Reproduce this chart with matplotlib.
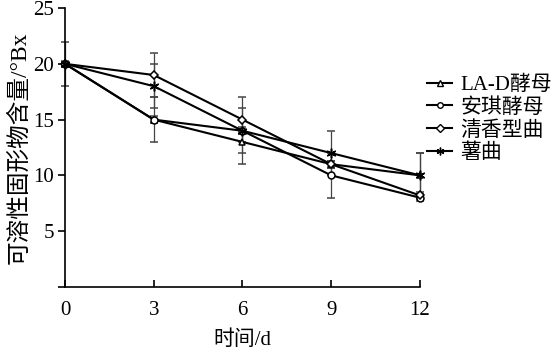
import matplotlib
matplotlib.use("Agg")
import matplotlib.pyplot as plt
from matplotlib.lines import Line2D

plt.rcParams['font.family'] = ['Liberation Serif', 'Noto Sans CJK SC']
plt.rcParams['font.size'] = 15

# Data
days = [0, 3, 6, 9, 12]
series_names = ['LA-D酵母', '安琪酵母', '清香型曲', '薯曲']
la_d = [20, 15, 13, 11, 10]
anqi = [20, 15, 14, 10, 8]
qingxiang = [20, 19, 15, 11, 8.2]
shuqu = [20, 18, 14, 12, 10]

la_d_err = [2, 2, 2, 0.3, 2]
anqi_err = [0.2, 0.3, 2, 2, 0.3]
qingxiang_err = [0.2, 2, 2, 0.3, 0.3]
shuqu_err = [0.3, 2, 0.3, 2, 2]

markers = ['^', 'o', 'D', (6, 2, 0)]
msizes = [5, 5, 4.5, 7]

fig = plt.figure(figsize=(5.51, 3.52), dpi=100)
ax = fig.add_axes([0.118, 0.185, 0.644, 0.792])

all_vals = [la_d, anqi, qingxiang, shuqu]
all_err = [la_d_err, anqi_err, qingxiang_err, shuqu_err]
handles = []
for name, vals, err, m, ms in zip(series_names, all_vals, all_err, markers, msizes):
    ax.errorbar(days, vals, yerr=err, color='black', linewidth=1.5,
                marker=m, markersize=ms, markerfacecolor='white',
                markeredgecolor='black', markeredgewidth=1.1,
                ecolor='#444444', elinewidth=0.9, capsize=3, capthick=0.9,
                clip_on=False)
    handles.append(Line2D([], [], color='black', linewidth=1.5, marker=m,
                          markersize=ms * 0.8, markerfacecolor='white',
                          markeredgecolor='black', markeredgewidth=1.0))

ax.set_xlim(0, 12)
ax.set_ylim(0, 25)
ax.set_xticks(days)
ax.set_yticks([0, 5, 10, 15, 20, 25])
ax.set_yticklabels(['', '5', '10', '15', '20', '25'])
ax.spines['top'].set_visible(False)
ax.spines['right'].set_visible(False)
ax.tick_params(axis='x', direction='in', length=5, width=1.2, pad=10)
ax.tick_params(axis='y', direction='out', length=5, width=1.2, pad=3)
for s in ['left', 'bottom']:
    ax.spines[s].set_linewidth(1.2)

ax.set_xlabel('时间/d', labelpad=8)
ax.set_ylabel('可溶性固形物含量/°Bx', fontsize=17, labelpad=2)

fig.legend(handles, series_names, loc='upper left', bbox_to_anchor=(0.76, 0.81),
           frameon=False, handlelength=1.2, handletextpad=0.4,
           labelspacing=0.15, fontsize=15, borderaxespad=0)

fig.savefig('out.png', dpi=100)
